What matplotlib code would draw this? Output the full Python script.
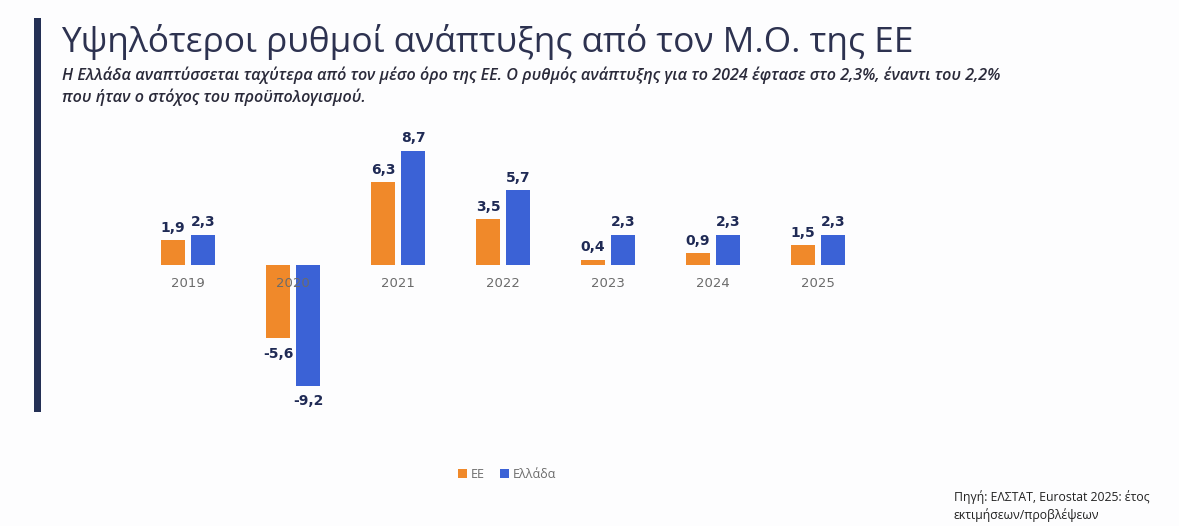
import matplotlib
matplotlib.use("Agg")
import matplotlib.pyplot as plt
from matplotlib.patches import Rectangle
import numpy as np

years = ["2019", "2020", "2021", "2022", "2023", "2024", "2025"]
ee = [1.9, -5.6, 6.3, 3.5, 0.4, 0.9, 1.5]
greece = [2.3, -9.2, 8.7, 5.7, 2.3, 2.3, 2.3]
series_names = ["ΕΕ", "Ελλάδα"]

title = "Υψηλότεροι ρυθμοί ανάπτυξης από τον Μ.Ο. της ΕΕ"
subtitle = ("Η Ελλάδα αναπτύσσεται ταχύτερα από τον μέσο όρο της ΕΕ. Ο ρυθμός ανάπτυξης για το 2024 έφτασε στο 2,3%, έναντι του 2,2%\n"
            "που ήταν ο στόχος του προϋπολογισμού.")
source = "Πηγή: ΕΛΣΤΑΤ, Eurostat 2025: έτος\nεκτιμήσεων/προβλέψεων"

ORANGE = "#F0892A"
BLUE = "#3B62D6"
NAVY = "#1F2A55"
GRAY = "#6b6b6b"

W, H = 1179, 526
fig = plt.figure(figsize=(W / 100, H / 100), dpi=100)
fig.patch.set_facecolor("#fdfdfe")

def fx(px):
    return px / W

def fy(py):
    return 1 - py / H

# left navy accent bar
fig.add_artist(Rectangle((fx(34), fy(412)), fx(7), (412 - 18) / H,
                         transform=fig.transFigure, color="#243055", lw=0))

fig.text(fx(61), fy(42), title, fontsize=25.4, color="#2d3250",
         family="Open Sans", va="center", ha="left")
fig.text(fx(62), fy(86), subtitle, fontsize=11.6, color="#2a2a3a",
         family="Open Sans", style="italic", fontweight="semibold",
         va="center", ha="left", linespacing=1.3)

# axes
left_px, right_px, top_px, bot_px = 130, 880, 140, 400
ax = fig.add_axes([fx(left_px), fy(bot_px), (right_px - left_px) / W, (bot_px - top_px) / H])
ax.set_axis_off()
spacing = 105.0
c0 = 188.0
ax.set_xlim((left_px - c0) / spacing, (right_px - c0) / spacing)
ppu = 13.1
zero = 265.0
ax.set_ylim(-(bot_px - zero) / ppu, (zero - top_px) / ppu)

x = np.arange(len(years))
bw = 0.22
off = 0.143
b1 = ax.bar(x - off, ee, bw, color=ORANGE, label=series_names[0], zorder=2)
b2 = ax.bar(x + off, greece, bw, color=BLUE, label=series_names[1], zorder=2)

def fmt(v):
    return f"{v:.1f}".replace(".", ",")

for xs, vals in ((x - off, ee), (x + off, greece)):
    for xi, v in zip(xs, vals):
        if v >= 0:
            ax.annotate(fmt(v), (xi, v), xytext=(0, 4), textcoords="offset points",
                        ha="center", va="bottom", fontsize=10, fontweight="bold",
                        color=NAVY, family="DejaVu Sans", zorder=4)
        else:
            ax.annotate(fmt(v), (xi, v), xytext=(0, -6), textcoords="offset points",
                        ha="center", va="top", fontsize=10, fontweight="bold",
                        color=NAVY, family="DejaVu Sans", zorder=4)

for xi, yl in zip(x, years):
    ax.annotate(yl, (xi, 0), xytext=(0, -13), textcoords="offset points",
                ha="center", va="center", fontsize=9.5, color=GRAY,
                family="DejaVu Sans", zorder=5)

fig.legend(handles=[b1, b2], labels=series_names, loc="center",
           bbox_to_anchor=(fx(507), fy(474)), ncol=2, frameon=False,
           handlelength=0.7, handleheight=0.7, handletextpad=0.3,
           columnspacing=1.2, prop={"family": "Open Sans", "size": 9},
           labelcolor=GRAY)

fig.text(fx(954), fy(506), source, fontsize=8.8, color="#222222",
         family="Open Sans", va="center", ha="left", linespacing=1.4)

fig.savefig("out.png", dpi=100, facecolor=fig.get_facecolor())
